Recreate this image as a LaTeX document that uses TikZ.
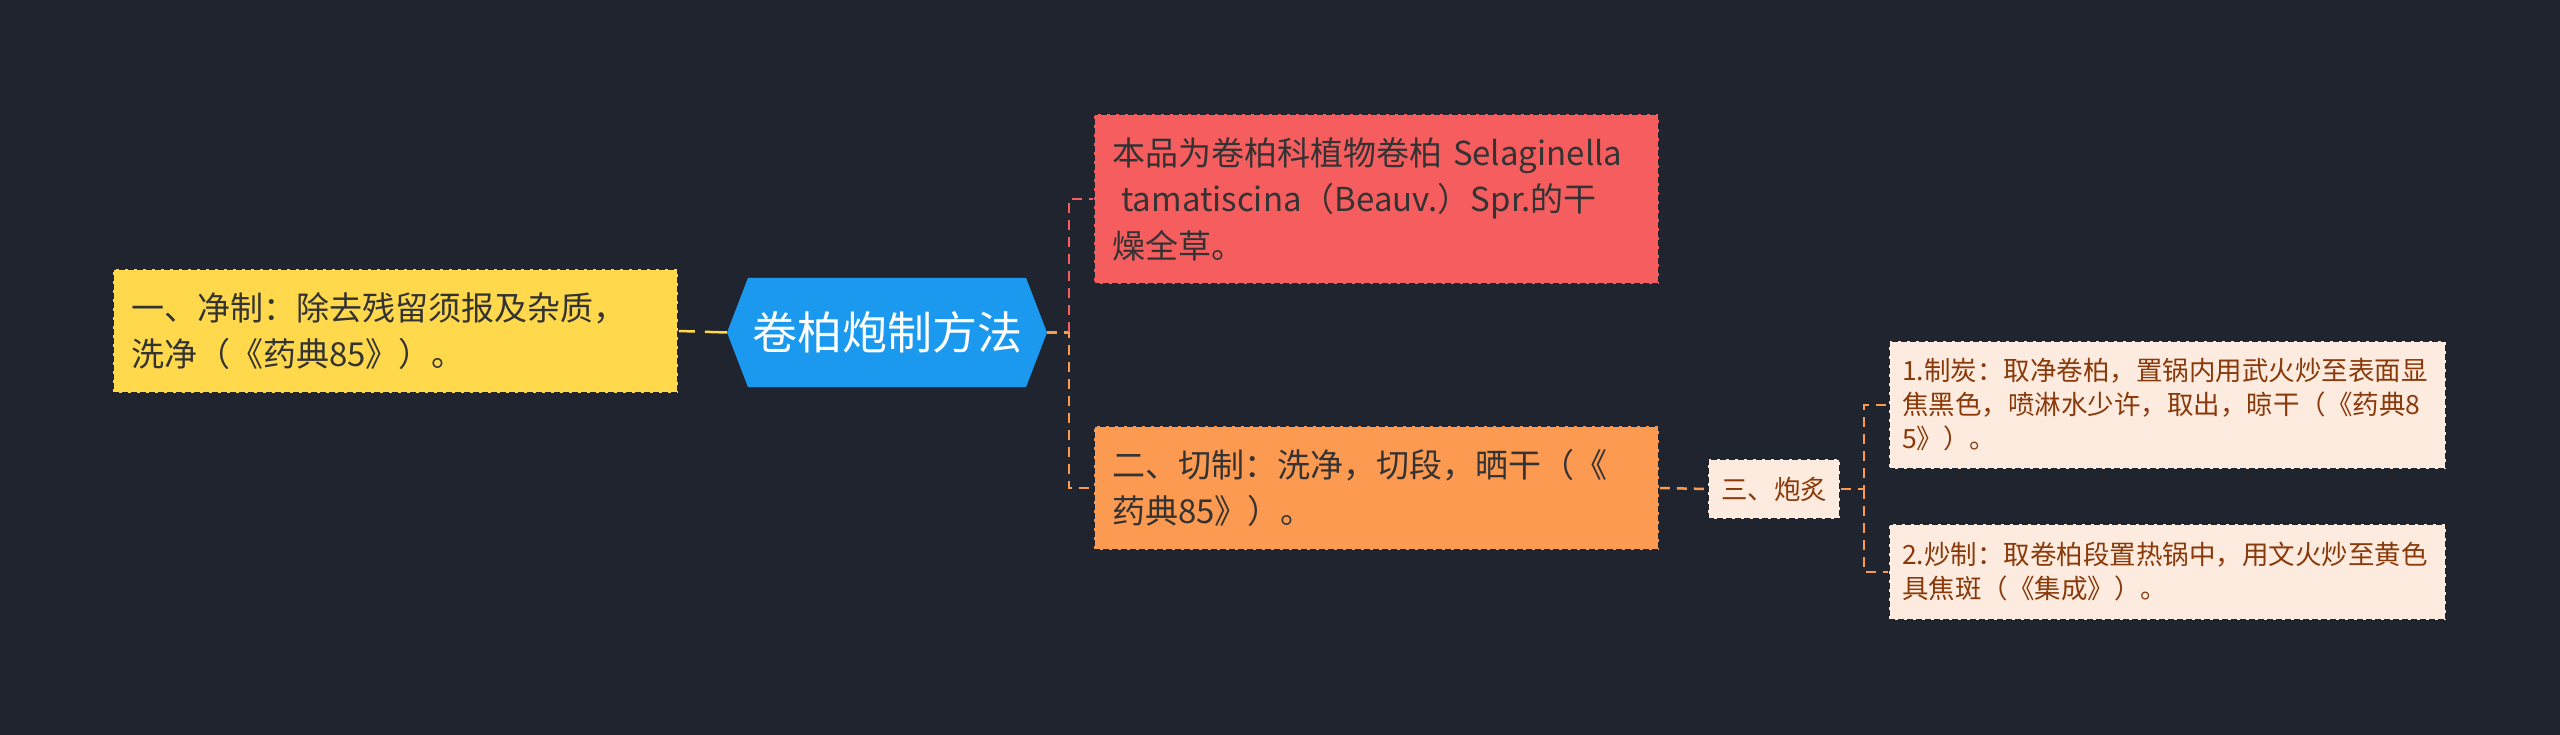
\documentclass[tikz,border=0pt]{standalone}
\usepackage{fontspec}
\setmainfont{Noto Sans CJK SC}
\usepackage{xcolor}
\usetikzlibrary{shapes.symbols, positioning}
\definecolor{board}{HTML}{20242F}
\definecolor{hubblue}{HTML}{1B99EE}
\definecolor{topicyellow}{HTML}{FFD94B}
\definecolor{topicred}{HTML}{F55D5F}
\definecolor{topicorange}{HTML}{FD9A52}
\definecolor{leafpeach}{HTML}{FDEBDF}
\definecolor{leaftext}{HTML}{8A3A0A}
\definecolor{darktext}{HTML}{333333}
\tikzset{
		hub/.style={shape=signal, signal to=east and west, signal pointer angle=138,
			fill=hubblue, text=white, inner sep=0pt, minimum width=320pt, minimum height=109pt,
			font=\fontsize{45}{54}\selectfont},
		topic box/.style={draw=board, fill=#1, dashed, dash pattern=on 6pt off 3pt, line width=1.8pt,
			text=darktext, align=left, inner xsep=18pt, inner ysep=0pt, text width=529pt, minimum width=565pt,
			font=\fontsize{33}{46.5}\selectfont},
		leaf box/.style={draw=board, fill=leafpeach, dashed, dash pattern=on 6pt off 3pt, line width=1.6pt,
			text=leaftext, align=left, inner xsep=13pt, inner ysep=0pt,
			font=\fontsize{26.5}{34}\selectfont},
		branch/.style={draw=#1, line width=2.5pt, dashed, dash pattern=on 10pt off 7pt}
	}
\begin{document}
\begin{tikzpicture}[x=1pt, y=-1pt]
				\useasboundingbox[fill=board] (0,0) rectangle (2560,735);
				\node[hub]                                         (hub)    at (887,332.5)  {卷柏炮制方法};
				\node[topic box=topicyellow, minimum height=124pt] (clean)  at (395.5,331)  {一、净制：除去残留须报及杂质，\\洗净（《药典85》）。};
				\node[topic box=topicred, minimum height=170pt]    (origin) at (1376.5,199) {本品为卷柏科植物卷柏 Selaginella\\\hspace{0.28em}tamatiscina（Beauv.）Spr.的干\\燥全草。};
				\node[topic box=topicorange, minimum height=124pt] (cut)    at (1376.5,488) {二、切制：洗净，切段，晒干（《\\药典85》）。};
				\node[leaf box, align=center, minimum width=132pt, minimum height=60pt, inner xsep=0pt] (fire) at (1774,489) {三、炮炙};
				\node[leaf box, text width=531pt, minimum width=557pt, minimum height=128pt] (char) at (2167.5,405) {1.制炭：取净卷柏，置锅内用武火炒至表面显\\焦黑色，喷淋水少许，取出，晾干（《药典8\\5》）。};
				\node[leaf box, text width=531pt, minimum width=557pt, minimum height=96pt]  (fry)  at (2167.5,572) {2.炒制：取卷柏段置热锅中，用文火炒至黄色\\具焦斑（《集成》）。};

				\coordinate (hubfork)  at (1069,332.5);
				\coordinate (firefork) at (1864,489);

				\draw[branch=topicyellow, dash pattern=on 28pt off 10pt, dash phase=12pt] (clean.east) -- (hub.west);
				\draw[branch=topicorange] (hub.east) -- (hubfork) |- (cut.west);
				\draw[branch=topicred]    (hubfork) |- (origin.west);
				\draw[branch=topicorange] (cut.east) -- (fire.west);
				\draw[branch=topicorange] (fire.east) -- (firefork) |- (char.west);
				\draw[branch=topicorange] (firefork) |- (fry.west);
			\end{tikzpicture}
\end{document}
